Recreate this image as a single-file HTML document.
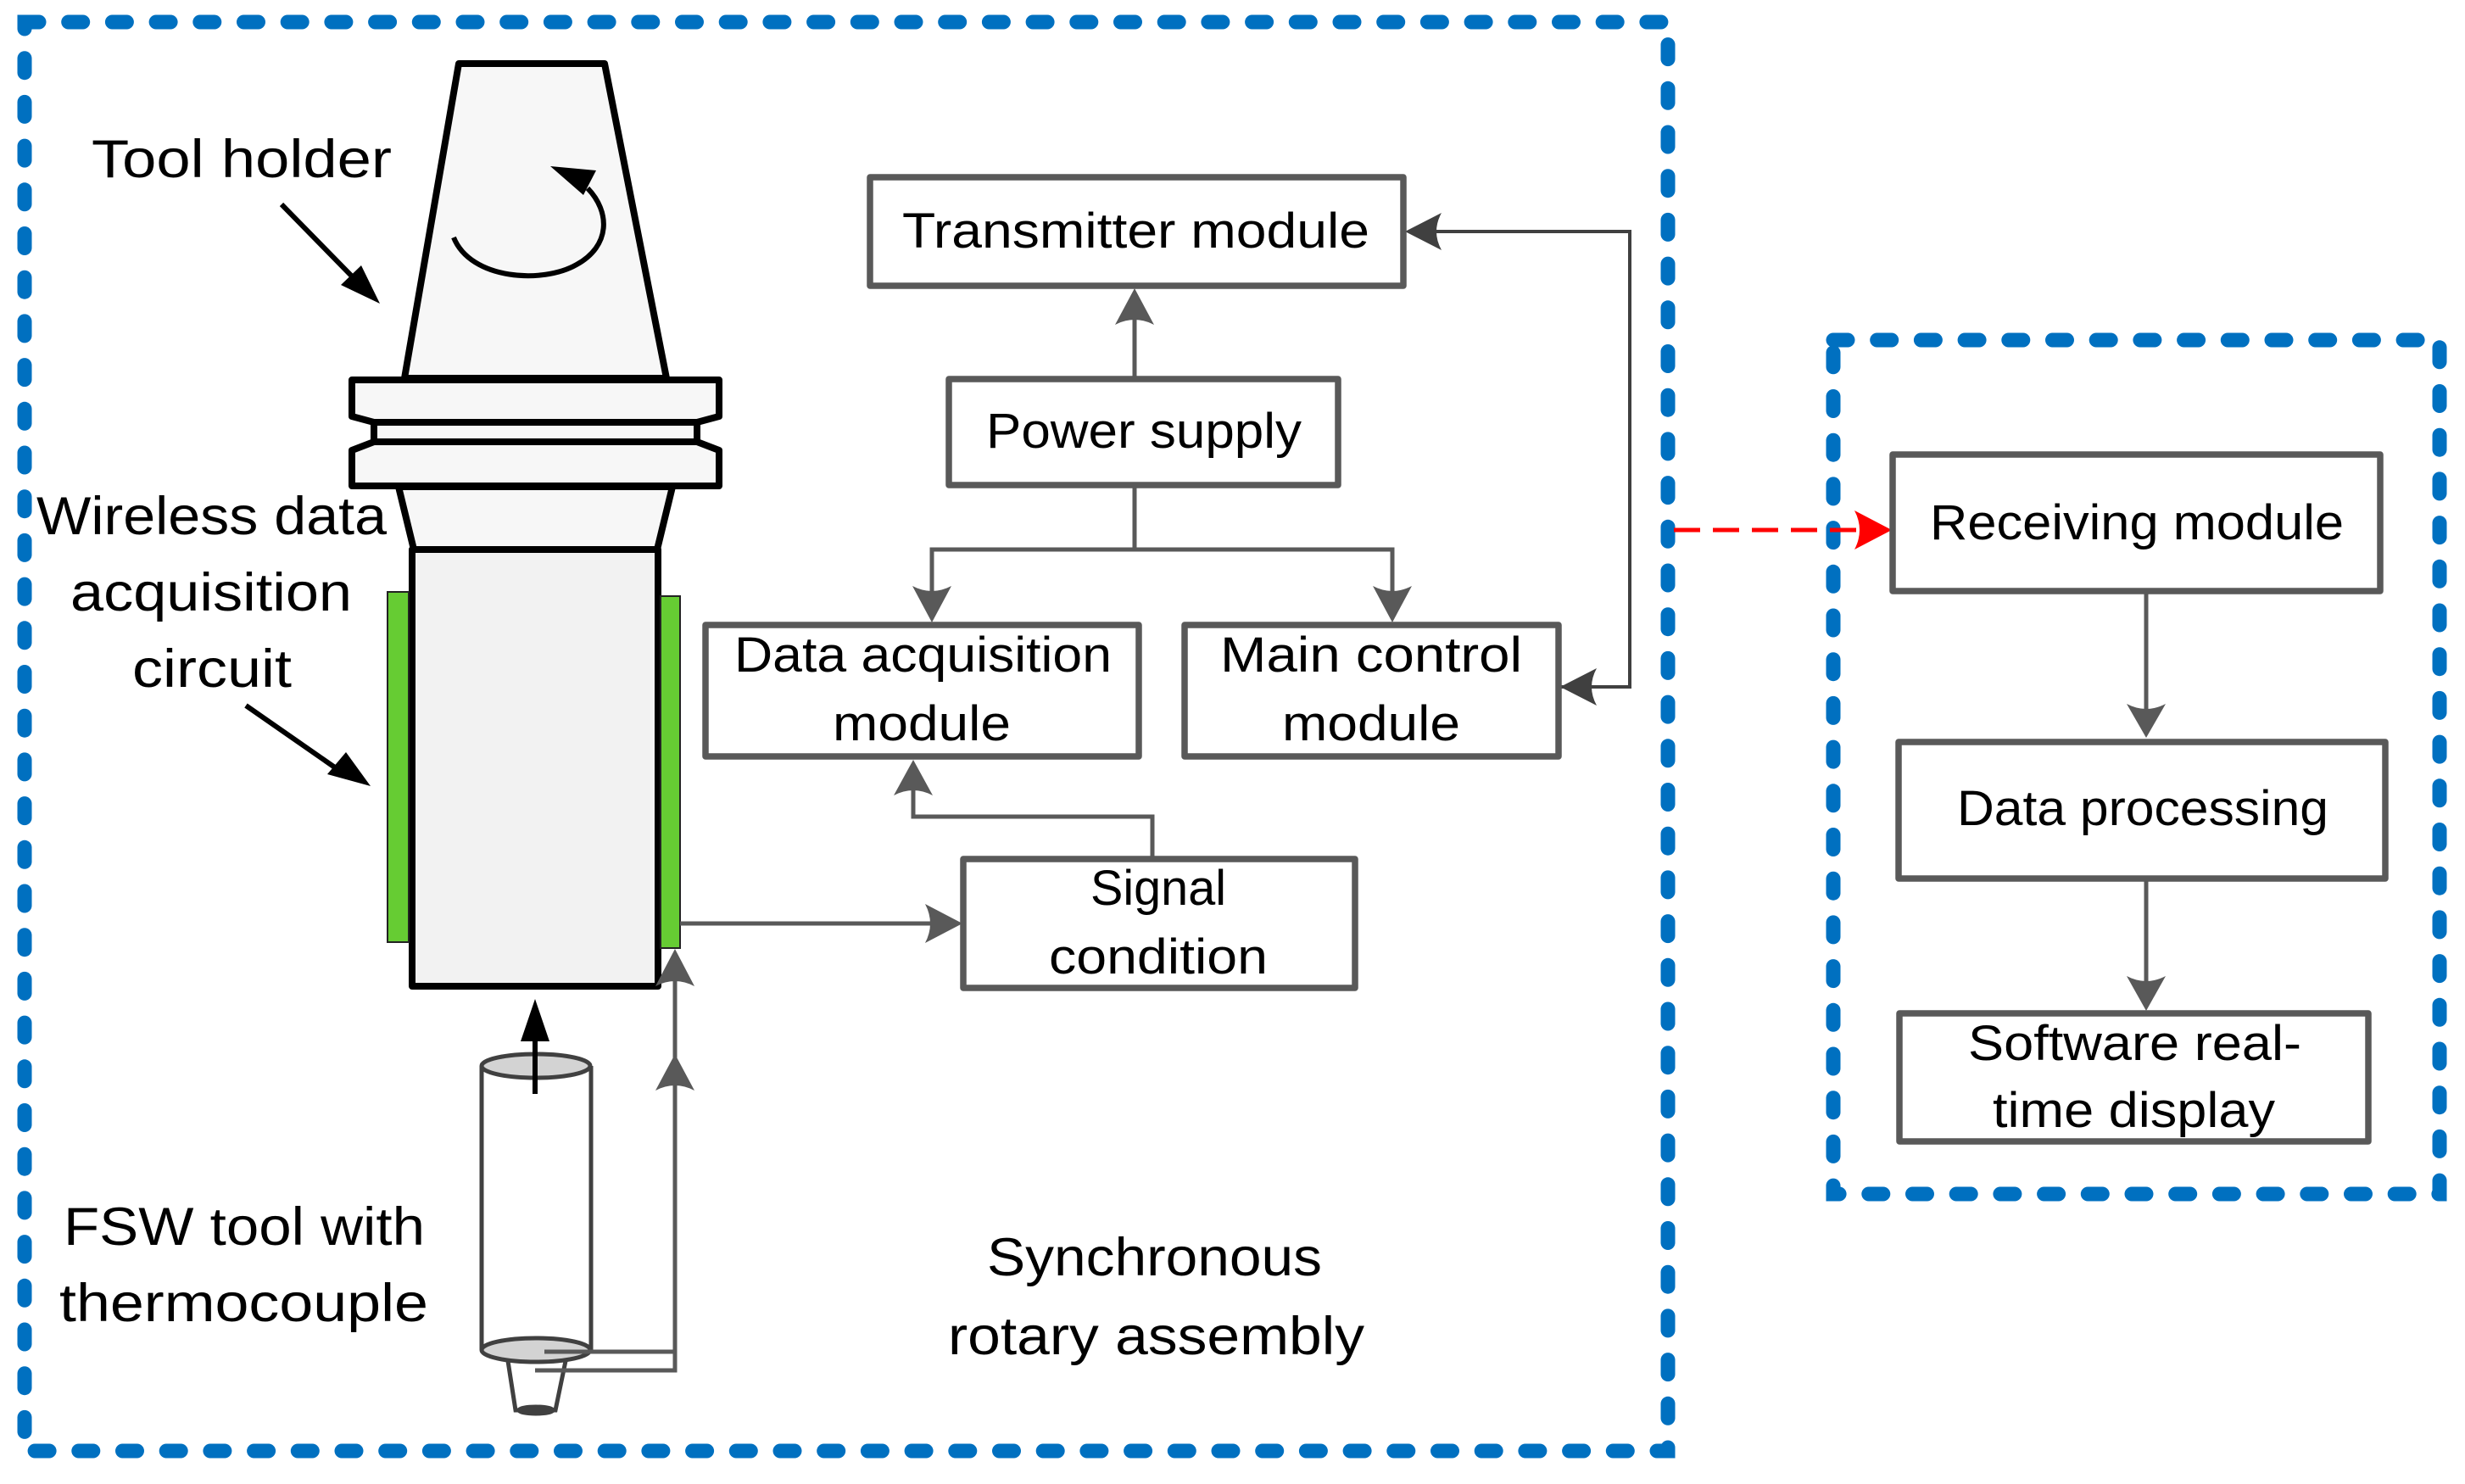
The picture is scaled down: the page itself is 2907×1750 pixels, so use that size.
<!DOCTYPE html>
<html><head><meta charset="utf-8"><style>
html,body{margin:0;padding:0;background:#fff;}
svg{display:block;}
text{font-family:"Liberation Sans",sans-serif;fill:#000;}
</style></head><body>
<svg width="2907" height="1750" viewBox="0 0 2907 1750" xmlns="http://www.w3.org/2000/svg">
<rect width="2907" height="1750" fill="#fff"/>
<!-- dashed containers -->
<g fill="none" stroke="#0070C0" stroke-width="17" stroke-linecap="round" stroke-dasharray="17 34.7">
<rect x="29" y="26" width="1938" height="1685"/>
<rect x="2162" y="401" width="715" height="1007"/>
</g>

<!-- tool holder -->
<g stroke="#000" stroke-width="8" stroke-linejoin="round" fill="#F7F7F7">
<polygon points="541,75 713,75 786,446 477,446"/>
<polygon points="470,574 793,574 775,648 488,648"/>
<rect x="486" y="648" width="290" height="515" fill="#F2F2F2"/>
<polygon points="415,448 848,448 848,491 822,498 822,521 848,531 848,573 415,573 415,531 441,521 441,498 415,491"/>
<line x1="441" y1="498" x2="822" y2="498"/>
<line x1="441" y1="521" x2="822" y2="521"/>
</g>
<!-- green strips -->
<rect x="457" y="698" width="25" height="413" fill="#66CC33" stroke="#222" stroke-width="2"/>
<rect x="779" y="703" width="23" height="415" fill="#66CC33" stroke="#222" stroke-width="2"/>
<!-- rotation arrow -->
<path d="M535,280 C555,330 640,335 680,312 C720,290 720,250 693,222" fill="none" stroke="#000" stroke-width="6"/>
<polygon points="649,196 703,201 688,230" fill="#000"/>
<!-- tool holder pointer -->
<line x1="332" y1="241" x2="425" y2="336" stroke="#000" stroke-width="6"/>
<polygon points="448,358 402,336 426,313" fill="#000"/>
<!-- circuit pointer -->
<line x1="290" y1="832" x2="405" y2="912" stroke="#000" stroke-width="6"/>
<polygon points="437,927 386,913 408,887" fill="#000"/>

<!-- FSW tool cylinder -->
<g stroke="#404040" stroke-width="5" fill="none">
<line x1="568" y1="1257" x2="568" y2="1592"/>
<line x1="697" y1="1257" x2="697" y2="1592"/>
<ellipse cx="632" cy="1257" rx="64" ry="14" fill="#D3D3D3"/>
<ellipse cx="632" cy="1592" rx="64" ry="14" fill="#D3D3D3"/>
<polyline points="599,1605 608,1663 655,1663 667,1605"/>
<ellipse cx="632" cy="1663" rx="20" ry="4"/>
</g>
<!-- black up arrow -->
<line x1="631" y1="1290" x2="631" y2="1220" stroke="#000" stroke-width="6"/>
<polygon points="631,1178 614,1228 648,1228" fill="#000"/>

<!-- gray connectors -->
<g stroke="#595959" stroke-width="5" fill="none">
<polyline points="642,1594 796,1594"/>
<polyline points="631,1616 796,1616 796,1125"/>
<line x1="802" y1="1089" x2="1100" y2="1089"/>
<polyline points="1359,1013 1359,963 1077,963 1077,905"/>
<line x1="1338" y1="447" x2="1338" y2="350"/>
<polyline points="1338,572 1338,648 1099,648 1099,700"/>
<polyline points="1338,648 1642,648 1642,700"/>
<line x1="2531" y1="697" x2="2531" y2="840"/>
<line x1="2531" y1="1036" x2="2531" y2="1160"/>
</g>
<g stroke="#404040" stroke-width="4" fill="none">
<polyline points="1690,273 1922,273 1922,810 1830,810"/>
</g>
<!-- arrowheads -->
<g fill="#595959">
<path d="M796,1243 L819,1286 Q796,1274 773,1286 Z"/>
<path d="M796,1119 L819,1163 Q796,1151 773,1163 Z"/>
<path d="M1135,1089 L1091,1066 Q1103,1089 1091,1112 Z"/>
<path d="M1077,896 L1100,938 Q1077,926 1054,938 Z"/>
<path d="M1338,340 L1361,383 Q1338,371 1315,383 Z"/>
<path d="M1099,734 L1122,691 Q1099,703 1076,691 Z"/>
<path d="M1642,734 L1665,691 Q1642,703 1619,691 Z"/>
<path d="M2531,870 L2554,830 Q2531,842 2508,830 Z"/>
<path d="M2531,1192 L2554,1151 Q2531,1163 2508,1151 Z"/>
</g>
<g fill="#404040">
<path d="M1657,273 L1700,251 Q1688,273 1700,295 Z"/>
<path d="M1840,810 L1883,788 Q1871,810 1883,832 Z"/>
</g>

<!-- red dashed arrow -->
<line x1="1974" y1="625" x2="2195" y2="625" stroke="#FF0000" stroke-width="5" stroke-dasharray="31 15"/>
<path d="M2231,625 L2187,602 Q2199,625 2187,648 Z" fill="#FF0000"/>

<!-- boxes -->
<g fill="#fff" stroke="#595959" stroke-width="7.5" stroke-linejoin="round">
<rect x="1026" y="209" width="629" height="128"/>
<rect x="1119" y="447" width="459" height="125"/>
<rect x="832" y="737" width="511" height="155"/>
<rect x="1397" y="737" width="441" height="155"/>
<rect x="1136" y="1013" width="462" height="152"/>
<rect x="2232" y="536" width="575" height="161"/>
<rect x="2239" y="875" width="574" height="161"/>
<rect x="2240" y="1195" width="553" height="151"/>
</g>

<!-- labels -->
<g font-size="58">
<text x="1064" y="292" textLength="551" lengthAdjust="spacingAndGlyphs">Transmitter module</text>
<text x="1163" y="528" textLength="372" lengthAdjust="spacingAndGlyphs">Power supply</text>
<text x="866" y="792" textLength="445" lengthAdjust="spacingAndGlyphs">Data acquisition</text>
<text x="982" y="873" textLength="210" lengthAdjust="spacingAndGlyphs">module</text>
<text x="1439" y="792" textLength="356" lengthAdjust="spacingAndGlyphs">Main control</text>
<text x="1512" y="873" textLength="210" lengthAdjust="spacingAndGlyphs">module</text>
<text x="1286" y="1067" textLength="160" lengthAdjust="spacingAndGlyphs">Signal</text>
<text x="1237" y="1148" textLength="258" lengthAdjust="spacingAndGlyphs">condition</text>
<text x="2276" y="636" textLength="488" lengthAdjust="spacingAndGlyphs">Receiving module</text>
<text x="2308" y="973" textLength="438" lengthAdjust="spacingAndGlyphs">Data processing</text>
<text x="2321" y="1250" textLength="393" lengthAdjust="spacingAndGlyphs">Software real-</text>
<text x="2350" y="1329" textLength="333" lengthAdjust="spacingAndGlyphs">time display</text>
</g>
<g font-size="63">
<text x="108" y="209" textLength="354" lengthAdjust="spacingAndGlyphs">Tool holder</text>
<text x="43" y="630" textLength="413" lengthAdjust="spacingAndGlyphs">Wireless data</text>
<text x="83" y="720" textLength="332" lengthAdjust="spacingAndGlyphs">acquisition</text>
<text x="156" y="810" textLength="188" lengthAdjust="spacingAndGlyphs">circuit</text>
<text x="75" y="1468" textLength="426" lengthAdjust="spacingAndGlyphs">FSW tool with</text>
<text x="70" y="1558" textLength="435" lengthAdjust="spacingAndGlyphs">thermocouple</text>
<text x="1164" y="1504" textLength="395" lengthAdjust="spacingAndGlyphs">Synchronous</text>
<text x="1118" y="1597" textLength="491" lengthAdjust="spacingAndGlyphs">rotary assembly</text>
</g>
</svg>
</body></html>
